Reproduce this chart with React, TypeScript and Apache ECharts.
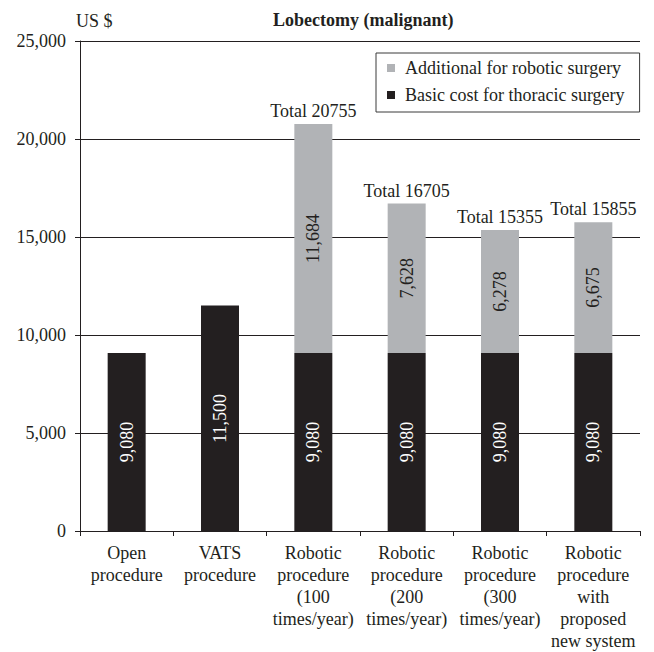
import React, { useEffect, useRef } from "react";
import * as echarts from "echarts";

const categories = [
  "Open\nprocedure",
  "VATS\nprocedure",
  "Robotic\nprocedure\n(100\ntimes/year)",
  "Robotic\nprocedure\n(200\ntimes/year)",
  "Robotic\nprocedure\n(300\ntimes/year)",
  "Robotic\nprocedure\nwith\nproposed\nnew system",
];
const basicCost = [9080, 11500, 9080, 9080, 9080, 9080];
const additionalRobotic: (number | string)[] = ["-", "-", 11684, 7628, 6278, 6675];
const totalLabels = ["", "", "Total 20755", "Total 16705", "Total 15355", "Total 15855"];
const yTicks = [0, 5000, 10000, 15000, 20000, 25000];

const FONT = "'Liberation Serif', 'Times New Roman', serif";
const INK = "#231f20";
const GRAY = "#b1b3b6";

export default function App() {
  const ref = useRef<HTMLDivElement>(null);
  useEffect(() => {
    if (!ref.current) return;
    document.body.style.margin = "0";
    const chart = echarts.init(ref.current, null, { renderer: "svg" });
    const fmt = (v: number) => v.toLocaleString("en-US");
    chart.setOption({
      animation: false,
      backgroundColor: "#ffffff",
      textStyle: { fontFamily: FONT, color: INK },
      title: [
        {
          text: "Lobectomy (malignant)",
          left: 268,
          top: 6,
          textStyle: { fontFamily: FONT, fontSize: 18, fontWeight: "bold", color: INK },
        },
        {
          text: "US $",
          left: 71,
          top: 7,
          textStyle: { fontFamily: FONT, fontSize: 18, fontWeight: "normal", color: INK },
        },
      ],
      legend: {
        data: ["Additional for robotic surgery", "Basic cost for thoracic surgery"],
        orient: "vertical",
        left: 376,
        top: 53,
        borderColor: "#3a3a3a",
        borderWidth: 1,
        padding: [6, 15, 8, 11],
        itemWidth: 8,
        itemHeight: 8,
        itemGap: 9,
        icon: "rect",
        textStyle: { fontFamily: FONT, fontSize: 18, color: INK, padding: [0, 0, 0, 5] },
      },
      grid: { left: 80, right: 14, top: 41, bottom: 121, containLabel: false },
      xAxis: {
        type: "category",
        data: categories,
        axisLine: { lineStyle: { color: INK, width: 1 } },
        axisTick: { show: true, length: 5, lineStyle: { color: INK } },
        axisLabel: {
          fontFamily: FONT,
          fontSize: 18,
          color: INK,
          lineHeight: 22,
          margin: 11,
          interval: 0,
        },
      },
      yAxis: {
        type: "value",
        min: yTicks[0],
        max: yTicks[yTicks.length - 1],
        interval: 5000,
        axisLine: { show: true, lineStyle: { color: INK, width: 1 } },
        axisTick: { show: true, length: 5, lineStyle: { color: INK } },
        axisLabel: {
          fontFamily: FONT,
          fontSize: 18,
          color: INK,
          margin: 14,
          formatter: (v: number) => fmt(v),
        },
        splitLine: { show: true, lineStyle: { color: INK, width: 1 } },
      },
      series: [
        {
          name: "Basic cost for thoracic surgery",
          type: "bar",
          stack: "cost",
          barWidth: 38,
          data: basicCost,
          itemStyle: { color: INK },
          label: {
            show: true,
            position: "inside",
            rotate: 90,
            fontFamily: FONT,
            fontSize: 18,
            color: "#ffffff",
            formatter: (p: any) => fmt(p.value),
          },
        },
        {
          name: "Additional for robotic surgery",
          type: "bar",
          stack: "cost",
          barWidth: 38,
          data: additionalRobotic,
          itemStyle: { color: GRAY },
          label: {
            show: true,
            position: "inside",
            rotate: 90,
            fontFamily: FONT,
            fontSize: 18,
            color: INK,
            formatter: (p: any) => (typeof p.value === "number" ? fmt(p.value) : ""),
          },
        },
        {
          name: "Total",
          type: "bar",
          stack: "cost",
          barWidth: 38,
          data: totalLabels.map((t) => (t ? 0 : "-")),
          itemStyle: { color: "rgba(0,0,0,0)" },
          label: {
            show: true,
            position: "top",
            distance: 4,
            fontFamily: FONT,
            fontSize: 18,
            color: INK,
            formatter: (p: any) => totalLabels[p.dataIndex],
          },
        },
      ],
    });
    return () => chart.dispose();
  }, []);
  return (
    <div
      ref={ref}
      style={{ position: "absolute", left: 0, top: 0, width: 654, height: 652 }}
    />
  );
}
